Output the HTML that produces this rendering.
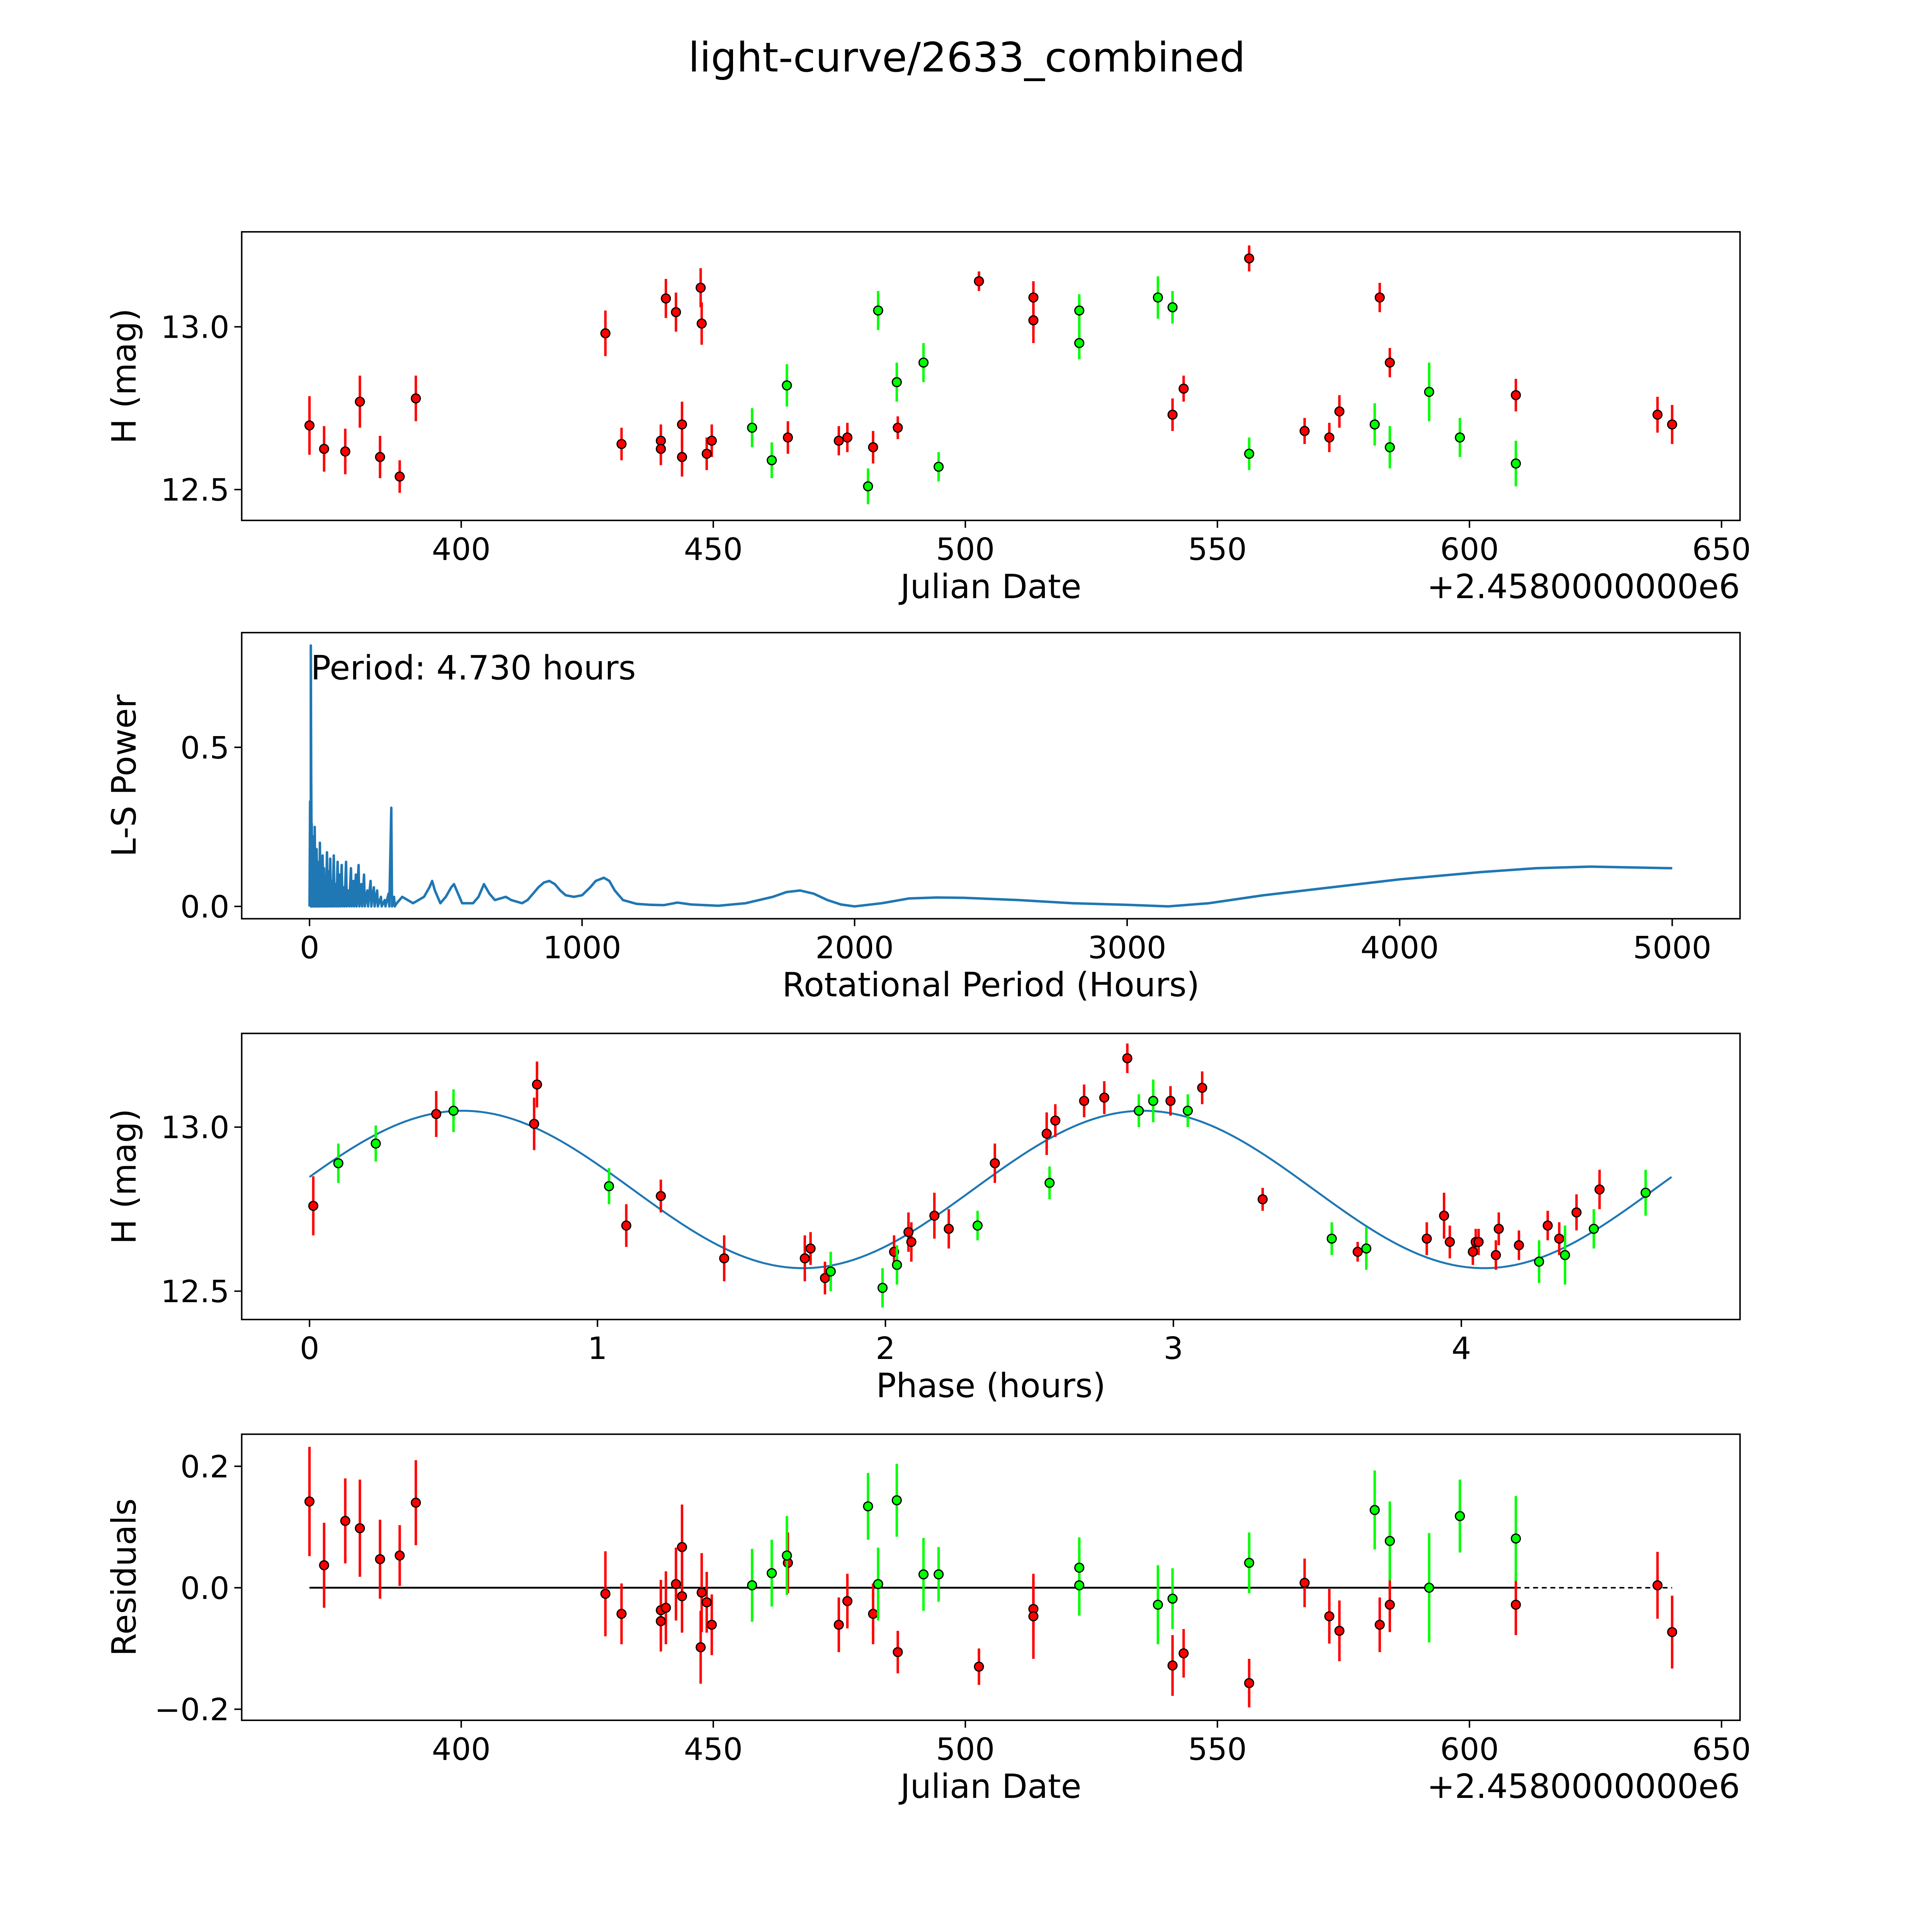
<!DOCTYPE html>
<html><head><meta charset="utf-8"><style>
html,body{margin:0;padding:0;background:#fff;overflow:hidden;width:5400px;height:5400px}
svg{display:block}
text{font-family:"DejaVu Sans","Liberation Sans",sans-serif;fill:#000}
</style></head><body>
<svg id="fig" width="5400" height="5400" viewBox="0 0 1692 1692" xmlns="http://www.w3.org/2000/svg">
<rect width="1692" height="1692" fill="#fff"/>
<text x="784" y="58" font-size="33" text-anchor="middle">light-curve/2633_combined</text>
</svg>
<script>
// ---- data ----
const redDates=[369.9,372.8,377.0,379.9,383.9,387.8,391.0,428.6,431.8,439.6,439.6,440.6,442.6,443.8,443.8,447.5,447.7,448.7,449.7,464.8,474.9,476.6,481.7,486.6,502.7,513.5,513.5,541.1,543.3,556.3,567.3,572.2,574.2,582.2,584.2,609.2,637.3,640.2];
const redMags=[12.697,12.625,12.617,12.77,12.60,12.54,12.78,12.98,12.64,12.65,12.625,13.087,13.045,12.70,12.60,13.12,13.01,12.61,12.65,12.66,12.65,12.66,12.63,12.69,13.14,13.09,13.02,12.73,12.81,13.21,12.68,12.66,12.74,13.09,12.89,12.79,12.73,12.70];
const redErrs=[0.09,0.07,0.07,0.08,0.065,0.05,0.07,0.07,0.05,0.05,0.05,0.06,0.06,0.07,0.06,0.06,0.065,0.05,0.05,0.05,0.045,0.045,0.05,0.035,0.03,0.05,0.07,0.05,0.04,0.04,0.04,0.045,0.05,0.045,0.045,0.05,0.055,0.06];
const greenDates=[457.7,461.6,464.6,480.7,482.7,486.4,491.7,494.7,522.6,522.6,538.2,541.1,556.3,581.2,584.2,592.0,598.1,609.2];
const greenMags=[12.69,12.59,12.82,12.51,13.05,12.83,12.89,12.57,13.05,12.95,13.09,13.06,12.61,12.70,12.63,12.80,12.66,12.58];
const greenErrs=[0.06,0.055,0.065,0.055,0.06,0.06,0.06,0.045,0.05,0.05,0.065,0.05,0.05,0.065,0.065,0.09,0.06,0.07];
const redPhase=[0.013,0.44,0.79,0.78,1.10,1.22,1.44,1.72,1.74,1.79,2.03,2.08,2.09,2.17,2.22,2.38,2.56,2.59,2.69,2.76,2.84,2.99,3.10,3.31,3.64,3.88,3.94,3.96,4.04,4.05,4.06,4.12,4.13,4.20,4.30,4.34,4.40,4.48];
const redPhaseMags=[12.76,13.04,13.13,13.01,12.70,12.79,12.60,12.60,12.63,12.54,12.62,12.68,12.65,12.73,12.69,12.89,12.98,13.02,13.08,13.09,13.21,13.08,13.12,12.78,12.62,12.66,12.73,12.65,12.62,12.65,12.65,12.61,12.69,12.64,12.70,12.66,12.74,12.81];
const greenPhase=[0.10,0.23,0.50,1.04,1.81,1.99,2.04,2.32,2.57,2.88,2.93,3.05,3.55,3.67,4.27,4.36,4.46,4.64];
const greenPhaseMags=[12.89,12.95,13.05,12.82,12.56,12.51,12.58,12.70,12.83,13.05,13.08,13.05,12.66,12.63,12.59,12.61,12.69,12.80];
const redResid=[0.142,0.037,0.11,0.098,0.047,0.053,0.14,-0.01,-0.043,-0.055,-0.037,-0.033,0.006,0.067,-0.014,-0.098,-0.008,-0.024,-0.061,0.041,-0.061,-0.022,-0.043,-0.106,-0.13,-0.035,-0.047,-0.128,-0.108,-0.157,0.008,-0.047,-0.071,-0.061,-0.028,-0.028,0.004,-0.073];
const greenResid=[0.004,0.024,0.053,0.134,0.006,0.144,0.022,0.022,0.033,0.004,-0.028,-0.018,0.041,0.128,0.077,0,0.118,0.081];
const spikePeriods=[2,4.73,6,8,10,13,16,19,22,26,30,34,38,43,48,53,58,64,70,76,82,89,96,103,110,118,126,134,143,152,161,170,180,190,200,212,224,236,248,262,276,290,300,310];
const spikePowers=[0.33,0.82,0.43,0.26,0.2,0.22,0.19,0.25,0.17,0.18,0.12,0.14,0.2,0.1,0.16,0.12,0.09,0.17,0.11,0.15,0.08,0.16,0.07,0.14,0.1,0.13,0.06,0.14,0.05,0.12,0.08,0.1,0.13,0.07,0.1,0.05,0.08,0.06,0.05,0.03,0.02,0.04,0.31,0.03];
const smoothPeriods=[320,340,360,380,400,420,440,450,460,480,500,520,530,545,560,580,600,620,640,660,680,700,720,740,760,780,800,820,840,860,880,900,920,940,970,1000,1030,1050,1080,1100,1120,1150,1200,1250,1300,1350,1400,1450,1500,1600,1700,1750,1800,1850,1900,1950,2000,2100,2200,2300,2400,2600,2800,3000,3150,3300,3500,3700,4000,4300,4500,4700,5000];
const smoothPowers=[0.01,0.03,0.02,0.01,0.02,0.03,0.06,0.08,0.05,0.01,0.03,0.06,0.07,0.04,0.01,0.01,0.01,0.03,0.07,0.04,0.02,0.025,0.03,0.02,0.015,0.01,0.02,0.04,0.06,0.075,0.08,0.07,0.05,0.035,0.03,0.035,0.06,0.08,0.09,0.08,0.05,0.02,0.008,0.005,0.004,0.012,0.006,0.004,0.002,0.01,0.03,0.045,0.05,0.04,0.02,0.006,0.0,0.01,0.025,0.028,0.027,0.02,0.01,0.005,0.0,0.01,0.035,0.055,0.085,0.108,0.12,0.125,0.12];
const fitParams=[12.81,0.24,2.365,-0.06];
const xTicksDate=[400,450,500,550,600,650];
const yTicksMag=[12.5,13.0];
const xTicksPeriod=[0,1000,2000,3000,4000,5000];
const yTicksPower=[0.0,0.5];
const xTicksPhase=[0,1,2,3,4];
const yTicksResid=[-0.2,0.0,0.2];

const NS='http://www.w3.org/2000/svg';
const svg=document.getElementById('fig');
function mk(tag,attrs,parent){const e=document.createElementNS(NS,tag);for(const k in attrs)e.setAttribute(k,attrs[k]);(parent||svg).appendChild(e);return e;}
function lin(d0,d1,r0,r1){return v=>r0+(v-d0)*(r1-r0)/(d1-d0);}

function axes(name,box,xs,ys,xt,yt,xfmt,yfmt,xlabel,ylabel,offset){
  const g=mk('g',{});
  
  
  const fr=mk('rect',{x:box[0],y:box[1],width:box[2]-box[0],height:box[3]-box[1],fill:'none',stroke:'#000','stroke-width':1.2},g);
  
  
  xt.forEach(v=>{const x=xs(v);mk('line',{x1:x,x2:x,y1:box[3],y2:box[3]+6,stroke:'#000','stroke-width':1.2},g);
    const t=mk('text',{x:x,y:box[3]+32,'font-size':25,'text-anchor':'middle'},g);t.textContent=xfmt(v);
    
    });
  yt.forEach(v=>{const y=ys(v);mk('line',{x1:box[0]-6,x2:box[0],y1:y,y2:y,stroke:'#000','stroke-width':1.2},g);
    const t=mk('text',{x:box[0]-10,y:y+9,'font-size':25,'text-anchor':'end'},g);t.textContent=yfmt(v);
    
    });
  const xl=mk('text',{x:(box[0]+box[2])/2,y:box[3]+63,'font-size':27,'text-anchor':'middle'},g);xl.textContent=xlabel;
  
  
  const cy=(box[1]+box[3])/2;
  const yl=mk('text',{x:0,y:0,'font-size':27,'text-anchor':'middle',transform:`translate(${box[0]-86},${cy}) rotate(-90)`},g);yl.textContent=ylabel;
  
  
  if(offset){const o=mk('text',{x:box[2],y:box[3]+63,'font-size':27,'text-anchor':'end'},g);o.textContent=offset;
    
    }
  return g;
}
function points(g,xs,ys,X,Y,E,color,name){
  X.forEach((v,i)=>{const x=xs(v),y=ys(Y[i]);
    if(E){const l=mk('line',{x1:x,x2:x,y1:ys(Y[i]-E[i]),y2:ys(Y[i]+E[i]),stroke:color,'stroke-width':2},g);
      
      }
  });
  X.forEach((v,i)=>{const c=mk('circle',{cx:xs(v),cy:ys(Y[i]),r:3.6,fill:color,stroke:'#000','stroke-width':1},g);
    
    });
}
const f1=v=>String(v), fm=v=>v.toFixed(1);
const offs='+2.4580000000e6';
// panel 1
const b1=[196,188,1411,422];
const xs1=lin(400,650,374,1396), ys1=lin(12.5,13.0,397,265);
const g1=axes('light-curve-panel',b1,xs1,ys1,xTicksDate,yTicksMag,f1,fm,'Julian Date','H (mag)',offs);
points(g1,xs1,ys1,redDates,redMags,redErrs,'#ff0000','red-obs');
points(g1,xs1,ys1,greenDates,greenMags,greenErrs,'#00ff00','green-obs');
// panel 2
const b2=[196,513,1411,745];
const xs2=lin(0,5000,251,1356), ys2=lin(0,0.5,735,606);
const g2=axes('periodogram-panel',b2,xs2,ys2,xTicksPeriod,yTicksPower,f1,fm,'Rotational Period (Hours)','L-S Power');
let d='M'+xs2(0)+','+ys2(0);
spikePeriods.forEach((p,i)=>{d+=' L'+xs2(p)+','+ys2(spikePowers[i])+' L'+(xs2(p)+0.6)+','+ys2(0);});
smoothPeriods.forEach((p,i)=>{d+=' L'+xs2(p)+','+ys2(smoothPowers[i]);});
const pl=mk('path',{d:d,fill:'none',stroke:'#1f77b4','stroke-width':2,'stroke-linejoin':'round'},g2);


const pt=mk('text',{x:252,y:551,'font-size':27},g2);pt.textContent='Period: 4.730 hours';


// panel 3
const b3=[196,838,1411,1070];
const xs3=lin(0,4,251,1185), ys3=lin(12.5,13.0,1047,914);
const g3=axes('phase-folded-panel',b3,xs3,ys3,xTicksPhase,yTicksMag,f1,fm,'Phase (hours)','H (mag)');
let fd='';
for(let i=0;i<=200;i++){const p=4.73*i/200;const m=fitParams[0]+fitParams[1]*Math.sin(2*Math.PI*(p-fitParams[3])/fitParams[2]);fd+=(i?' L':'M')+xs3(p)+','+ys3(m);}
const fl=mk('path',{d:fd,fill:'none',stroke:'#1f77b4','stroke-width':1.6},g3);


points(g3,xs3,ys3,redPhase,redPhaseMags,redErrs,'#ff0000','red-phase');
points(g3,xs3,ys3,greenPhase,greenPhaseMags,greenErrs,'#00ff00','green-phase');
// panel 4
const b4=[196,1163,1411,1395];
const xs4=lin(400,650,374,1396), ys4=lin(-0.2,0.2,1386,1189);
const g4=axes('residuals-panel',b4,xs4,ys4,xTicksDate,yTicksResid,f1,v=>(v<0?'\u2212':'')+Math.abs(v).toFixed(1),'Julian Date','Residuals',offs);
const z1=mk('line',{x1:xs4(redDates[0]),x2:xs4(609.2),y1:ys4(0),y2:ys4(0),stroke:'#000','stroke-width':1.5},g4);


const z2=mk('line',{x1:xs4(609.2),x2:xs4(640.2),y1:ys4(0),y2:ys4(0),stroke:'#000','stroke-width':1.2,'stroke-dasharray':'4,3'},g4);


points(g4,xs4,ys4,redDates,redResid,redErrs,'#ff0000','red-resid');
points(g4,xs4,ys4,greenDates,greenResid,greenErrs,'#00ff00','green-resid');
</script>
</body></html>
